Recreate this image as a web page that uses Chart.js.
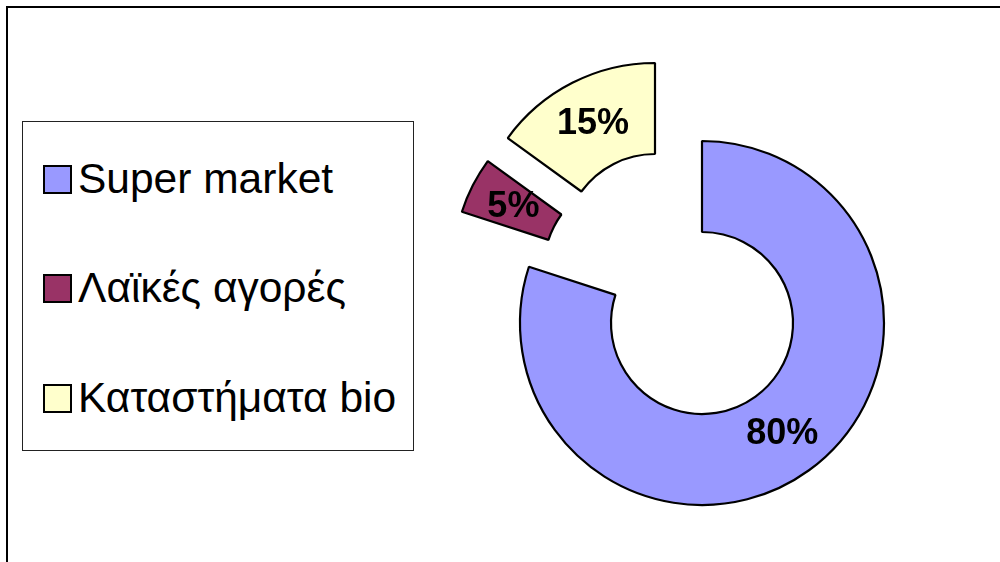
<!DOCTYPE html>
<html lang="el">
<head>
  <meta charset="UTF-8" />
  <title>Doughnut</title>
  <script src="https://cdn.jsdelivr.net/npm/chart.js"></script>
  <style>
    html, body { margin: 0; padding: 0; background: #fff; }
    body { width: 1000px; height: 562px; position: relative; overflow: hidden; font-family: "Liberation Sans", Arial, sans-serif; }
    #frame { position: absolute; left: 6px; top: 6px; width: 1000px; height: 600px; border-top: 2px solid #000; border-left: 2px solid #000; }
    #wrap { position: absolute; left: 0; top: 0; width: 1000px; height: 562px; }
    #legend { position: absolute; left: 22px; top: 121px; width: 392px; height: 330px; border: 1px solid #222; box-sizing: border-box; background: #fff; }
    .item { position: absolute; left: 20px; height: 44px; display: flex; align-items: center; font-size: 42.5px; color: #000; white-space: nowrap; }
    .sw { width: 25px; height: 25px; border: 2px solid #000; margin-right: 6px; flex: none; }
  </style>
</head>
<body>
  <div id="frame"></div>
  <div id="wrap"><canvas id="chart" width="1000" height="562"></canvas></div>
  <div id="legend"></div>

  <script>
    const labels = ["Super market", "Λαϊκές αγορές", "Καταστήματα bio"];
    const values = [80, 5, 15];
    const colors = ["#9999FF", "#993366", "#FFFFCC"];
    // how far each slice is pulled out of the ring (dx, dy)
    const explode = [[0, 0], [-67, -55], [-47, -78]];

    // legend
    const legend = document.getElementById("legend");
    const rowTop = [35, 144, 254];
    labels.forEach((name, i) => {
      const div = document.createElement("div");
      div.className = "item";
      div.style.top = rowTop[i] + "px";
      div.innerHTML = `<span class="sw" style="background:${colors[i]}"></span><span>${name}</span>`;
      legend.appendChild(div);
    });

    const explodePlugin = {
      id: "explode",
      afterDatasetsUpdate(chart) {
        const meta = chart.getDatasetMeta(0);
        meta.data.forEach((arc, i) => {
          arc.x += explode[i][0];
          arc.y += explode[i][1];
        });
      }
    };

    const labelPlugin = {
      id: "pctLabels",
      afterDatasetsDraw(chart) {
        const ctx = chart.ctx;
        const meta = chart.getDatasetMeta(0);
        ctx.save();
        ctx.font = "bold 36px 'Liberation Sans', Arial, sans-serif";
        ctx.fillStyle = "#000";
        ctx.textAlign = "center";
        ctx.textBaseline = "middle";
        meta.data.forEach((arc, i) => {
          const p = arc.getCenterPoint();
          ctx.fillText(values[i] + "%", p.x, p.y + 1);
        });
        ctx.restore();
      }
    };

    new Chart(document.getElementById("chart").getContext("2d"), {
      type: "doughnut",
      data: {
        labels: labels,
        datasets: [{
          data: values,
          backgroundColor: colors,
          borderColor: "#000",
          borderWidth: 2.2
        }]
      },
      options: {
        responsive: false,
        animation: false,
        events: [],
        radius: 182,
        cutout: "50%",
        layout: { padding: { left: 404, right: 0, top: 84, bottom: 0 } },
        plugins: { legend: { display: false }, tooltip: { enabled: false } }
      },
      plugins: [explodePlugin, labelPlugin]
    });
  </script>
</body>
</html>
